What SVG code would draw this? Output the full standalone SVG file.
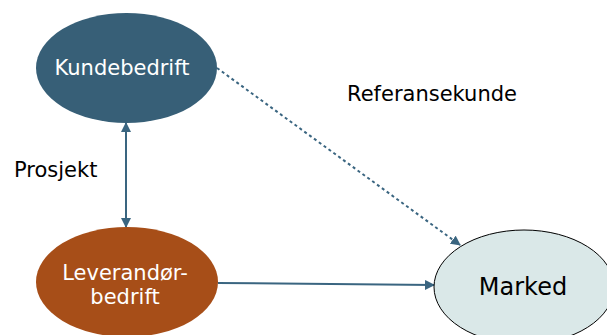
<svg xmlns="http://www.w3.org/2000/svg" width="607" height="335" viewBox="0 0 607 335">
<style>
text{font-family:"DejaVu Sans",Verdana,sans-serif;}
.lbl{font-size:21px;fill:#000;}
.con{stroke:#3A6580;stroke-width:2;fill:none;}
</style>
<defs>
<marker id="ah" viewBox="0 0 10 10" refX="9" refY="5" markerWidth="5" markerHeight="5" orient="auto-start-reverse" markerUnits="strokeWidth">
<path d="M0,0 L10,5 L0,10 z" fill="#3A6580"/>
</marker>
<marker id="ah2" viewBox="0 0 10 10" refX="9" refY="5" markerWidth="10" markerHeight="10" orient="auto" markerUnits="userSpaceOnUse">
<path d="M0,0 L10,5 L0,10 z" fill="#3A6580"/>
</marker>
</defs>
<rect width="607" height="335" fill="#fff"/>
<g id="connectors">
<line class="con" x1="126" y1="123" x2="126" y2="227" marker-start="url(#ah)" marker-end="url(#ah)"/>
<line class="con" x1="217" y1="68" x2="460" y2="245" stroke-dasharray="3 3" marker-end="url(#ah2)" stroke-width="3"/>
<line class="con" x1="218" y1="283" x2="434" y2="285" marker-end="url(#ah)"/>
</g>
<g id="kundebedrift">
<ellipse cx="126.5" cy="68" rx="90.5" ry="55" fill="#375F77"/>
<text x="122" y="75" font-size="21" fill="#fff" text-anchor="middle">Kundebedrift</text>
</g>
<g id="leverandor">
<ellipse cx="127" cy="282" rx="91" ry="55" fill="#A74E18"/>
<text x="125" y="280" font-size="21" fill="#fff" text-anchor="middle">Leverandør-</text>
<text x="125" y="304" font-size="21" fill="#fff" text-anchor="middle">bedrift</text>
</g>
<g id="marked">
<ellipse cx="524" cy="287" rx="90" ry="57" fill="#DAE8E8" stroke="#000" stroke-width="1"/>
<text x="523" y="295" font-size="24" fill="#000" text-anchor="middle">Marked</text>
</g>
<text class="lbl" x="347" y="101">Referansekunde</text>
<text class="lbl" x="14" y="177">Prosjekt</text>
</svg>
